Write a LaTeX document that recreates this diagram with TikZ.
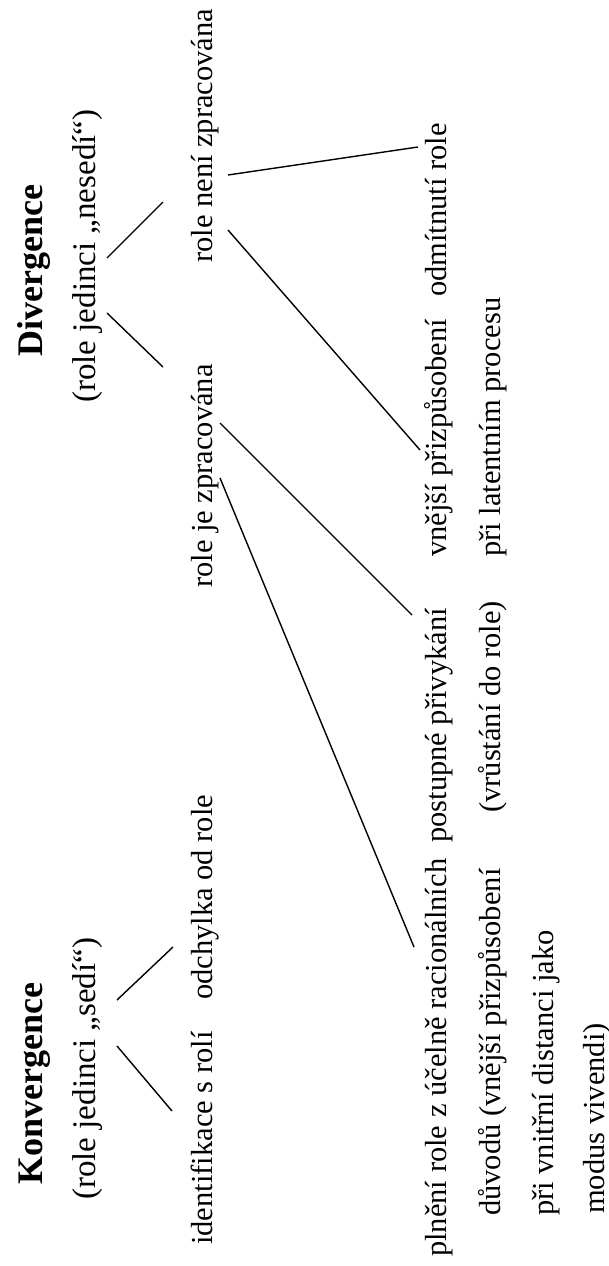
\documentclass[tikz,border=0pt]{standalone}
\usepackage{fontspec}
\setmainfont{Liberation Serif}
\begin{document}
\begin{tikzpicture}[x=1pt,y=-1pt,
  txt/.style={rotate=90,anchor=base west,inner sep=0pt,font=\fontsize{30.5}{36}\selectfont},
  sub/.style={rotate=90,anchor=base west,inner sep=0pt,font=\fontsize{33}{38}\selectfont},
  ttl/.style={rotate=90,anchor=base west,inner sep=0pt,font=\fontsize{36}{40}\selectfont\bfseries},
  conn/.style={line width=1.4pt,black}]
\useasboundingbox[fill=white] (0,0) rectangle (609,1266);
% Divergence branch
\node[ttl] (div) at (42,357) {Divergence};
\node[sub] (divsub) at (95,403) {(role jedinci „nesedí“)};
\node[txt] (rne) at (212,263) {role není zpracována};
\node[txt] (rje) at (212,588) {role je zpracována};
\node[txt] (odm) at (446,297) {odmítnutí role};
\node[txt] (vne) at (446,557) {vnější přizpůsobení};
\node[txt] (lat) at (500,557) {při latentním procesu};
\node[txt] (pos) at (446,843) {postupné přivykání};
\node[txt] (vru) at (500,813) {(vrůstání do role)};
\node[txt] (pln) at (446,1257) {plnění role z účelně racionálních};
\node[txt] (duv) at (500,1216) {důvodů (vnější přizpůsobení};
\node[txt] (vni) at (553,1216) {při vnitřní distanci jako};
\node[txt] (mod) at (604,1214) {modus vivendi)};
% Konvergence branch
\node[ttl] (kon) at (42,1185) {Konvergence};
\node[sub] (konsub) at (95,1200) {(role jedinci „sedí“)};
\node[txt] (ide) at (212,1245) {identifikace s rolí};
\node[txt] (odc) at (212,1000) {odchylka od role};
% connector end points
\coordinate (d1) at (107,313); \coordinate (d1e) at (163,367);
\coordinate (d2) at (107,258); \coordinate (d2e) at (163,202);
\coordinate (k1) at (117,1046); \coordinate (k1e) at (172,1111);
\coordinate (k2) at (117,1000); \coordinate (k2e) at (173,947);
\coordinate (n1) at (228,175); \coordinate (n1e) at (418,147);
\coordinate (n2) at (228,230); \coordinate (n2e) at (420,450);
\coordinate (j1) at (220,423); \coordinate (j1e) at (412,615);
\coordinate (j2) at (220,478); \coordinate (j2e) at (414,947);
\draw[conn] (d1) -- (d1e);
\draw[conn] (d2) -- (d2e);
\draw[conn] (k1) -- (k1e);
\draw[conn] (k2) -- (k2e);
\draw[conn] (n1) -- (n1e);
\draw[conn] (n2) -- (n2e);
\draw[conn] (j1) -- (j1e);
\draw[conn] (j2) -- (j2e);
\end{tikzpicture}
\end{document}
